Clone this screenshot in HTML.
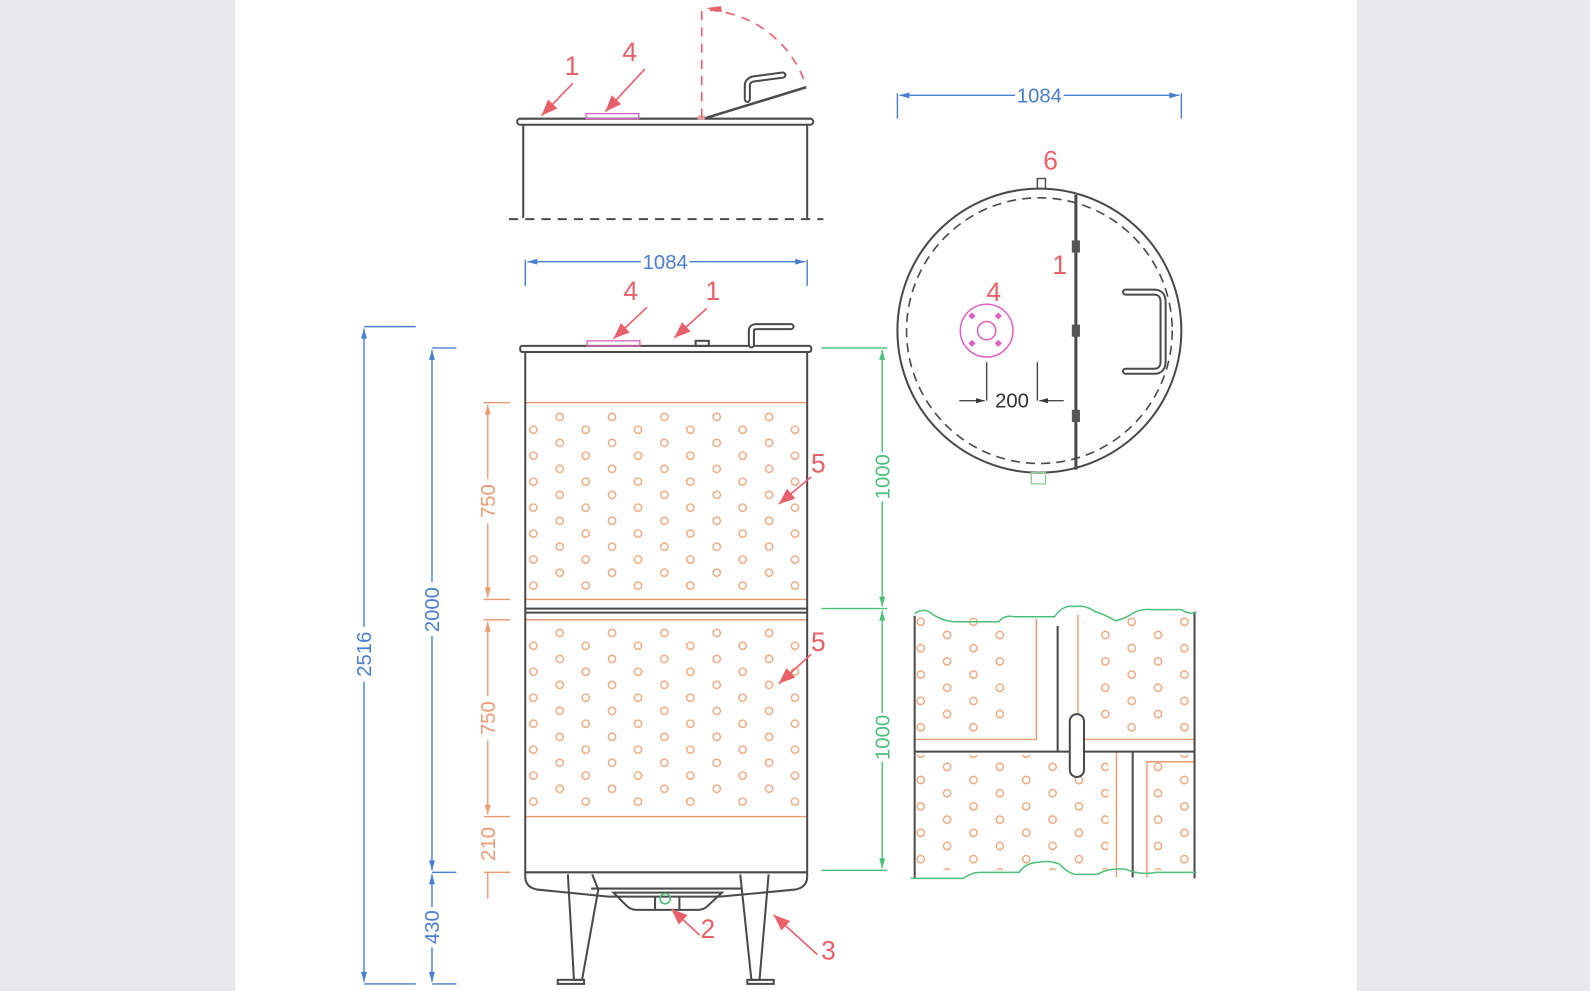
<!DOCTYPE html>
<html><head><meta charset="utf-8"><style>
html,body{margin:0;padding:0;background:#e9e9eb;}
svg{display:block;}
text{font-family:"Liberation Sans",sans-serif;}
</style></head><body>
<svg width="1590" height="991" viewBox="0 0 1568 977" preserveAspectRatio="none" xmlns="http://www.w3.org/2000/svg">
<defs>
<pattern id="dots" x="513" y="405" width="51.6" height="25.6" patternUnits="userSpaceOnUse">
<circle cx="39" cy="6" r="3.6" fill="none" stroke="#eba276" stroke-width="1.3"/>
<circle cx="13" cy="18.6" r="3.6" fill="none" stroke="#eba276" stroke-width="1.3"/>
</pattern>
<pattern id="dotsL" x="513" y="618" width="51.6" height="25.6" patternUnits="userSpaceOnUse">
<circle cx="39" cy="6" r="3.6" fill="none" stroke="#eba276" stroke-width="1.3"/>
<circle cx="13" cy="18.6" r="3.6" fill="none" stroke="#eba276" stroke-width="1.3"/>
</pattern>
<pattern id="dots2" x="895" y="606" width="52" height="26" patternUnits="userSpaceOnUse">
<circle cx="13" cy="7" r="3.6" fill="none" stroke="#eba276" stroke-width="1.3"/>
<circle cx="39" cy="20" r="3.6" fill="none" stroke="#eba276" stroke-width="1.3"/>
</pattern>
<marker id="ab" viewBox="0 0 10 10" refX="10" refY="5" markerWidth="9" markerHeight="7" orient="auto-start-reverse"><path d="M0,2 L10,5 L0,8z" fill="#4a7fd0"/></marker>
<marker id="ao" viewBox="0 0 10 10" refX="10" refY="5" markerWidth="9" markerHeight="7" orient="auto-start-reverse"><path d="M0,2 L10,5 L0,8z" fill="#ee9a70"/></marker>
<marker id="ag" viewBox="0 0 10 10" refX="10" refY="5" markerWidth="9" markerHeight="7" orient="auto-start-reverse"><path d="M0,2 L10,5 L0,8z" fill="#4cc07a"/></marker>
<marker id="ar" viewBox="0 0 10 10" refX="10" refY="5" markerWidth="14" markerHeight="10" orient="auto"><path d="M0,1 L10,5 L0,9z" fill="#e8606a"/></marker>
<marker id="ak" viewBox="0 0 10 10" refX="10" refY="5" markerWidth="10" markerHeight="6" orient="auto"><path d="M0,2 L10,5 L0,8z" fill="#333"/></marker>
</defs>
<rect x="0" y="0" width="1568" height="977" fill="#e9e9eb"/>
<rect x="232" y="0" width="1106" height="977" fill="#fefefe"/>

<g stroke="#4a4a4a" stroke-width="2" fill="none">
<rect x="510" y="117" width="292" height="6" rx="3"/>
<line x1="516" y1="123" x2="516" y2="215"/><line x1="796" y1="123" x2="796" y2="215"/>
<line x1="502" y1="216" x2="812" y2="216" stroke-dasharray="9,7"/>
<line x1="694" y1="117" x2="795" y2="86" stroke-width="2.5"/>
<path d="M737,98 L737,84 Q737,80 742,78 L772,74" stroke-width="7" stroke-linecap="round"/>
<path d="M737,98 L737,84 Q737,80 742,78 L772,74" stroke="#fff" stroke-width="3" stroke-linecap="round"/>
</g>
<rect x="578" y="112" width="52" height="5" fill="none" stroke="#e060c0" stroke-width="1.3"/>
<rect x="688" y="114" width="7" height="4" fill="#e8a0a0"/>
<path d="M692,116 L692,8 M700,10 A108,108 0 0 1 795,85" fill="none" stroke="#e8606a" stroke-width="1.6" stroke-dasharray="9,7"/>
<path d="M712,12 L696,8 L711,6z" fill="#e8606a"/>

<g stroke="#4a7fd0" stroke-width="1.4" fill="none">
<line x1="518" y1="256" x2="518" y2="282"/><line x1="796" y1="256" x2="796" y2="282"/>
<line x1="520" y1="258" x2="632" y2="258" marker-start="url(#ab)"/><line x1="680" y1="258" x2="794" y2="258" marker-end="url(#ab)"/>
<line x1="885" y1="92" x2="885" y2="117"/><line x1="1165" y1="92" x2="1165" y2="117"/>
<line x1="887" y1="94" x2="1001" y2="94" marker-start="url(#ab)"/><line x1="1049" y1="94" x2="1163" y2="94" marker-end="url(#ab)"/>
<line x1="359" y1="322" x2="410" y2="322"/><line x1="359" y1="970" x2="410" y2="970"/>
<line x1="359" y1="324" x2="359" y2="618" marker-start="url(#ab)"/><line x1="359" y1="672" x2="359" y2="968" marker-end="url(#ab)"/>
<line x1="426" y1="343" x2="450" y2="343"/><line x1="426" y1="860" x2="450" y2="860"/><line x1="426" y1="970" x2="450" y2="970"/>
<line x1="426" y1="345" x2="426" y2="574" marker-start="url(#ab)"/><line x1="426" y1="627" x2="426" y2="858" marker-end="url(#ab)"/>
<line x1="426" y1="862" x2="426" y2="894" marker-start="url(#ab)"/><line x1="426" y1="934" x2="426" y2="968" marker-end="url(#ab)"/>
</g>
<g fill="#4a7fd0" font-size="20">
<text x="656" y="265" text-anchor="middle">1084</text>
<text x="1025" y="101" text-anchor="middle">1084</text>
<text transform="translate(366,645) rotate(-90)" text-anchor="middle">2516</text>
<text transform="translate(433,601) rotate(-90)" text-anchor="middle">2000</text>
<text transform="translate(433,914) rotate(-90)" text-anchor="middle">430</text>
</g>
<g stroke="#ee9a70" stroke-width="1.4" fill="none">
<line x1="477" y1="397" x2="503" y2="397"/><line x1="477" y1="591" x2="503" y2="591"/>
<line x1="481" y1="399" x2="481" y2="472" marker-start="url(#ao)"/><line x1="481" y1="516" x2="481" y2="589" marker-end="url(#ao)"/>
<line x1="477" y1="611" x2="503" y2="611"/><line x1="477" y1="805" x2="503" y2="805"/>
<line x1="481" y1="613" x2="481" y2="686" marker-start="url(#ao)"/><line x1="481" y1="730" x2="481" y2="803" marker-end="url(#ao)"/>
<line x1="477" y1="860" x2="503" y2="860"/><line x1="481" y1="860" x2="481" y2="886"/>
<line x1="518" y1="397" x2="796" y2="397"/><line x1="518" y1="591" x2="796" y2="591"/>
<line x1="518" y1="611" x2="796" y2="611"/><line x1="518" y1="805" x2="796" y2="805"/>
</g>
<g fill="#ee9a70" font-size="20">
<text transform="translate(488,494) rotate(-90)" text-anchor="middle">750</text>
<text transform="translate(488,708) rotate(-90)" text-anchor="middle">750</text>
<text transform="translate(488,832) rotate(-90)" text-anchor="middle">210</text>
</g>
<g stroke="#4cc07a" stroke-width="1.4" fill="none">
<line x1="810" y1="343" x2="875" y2="343"/><line x1="810" y1="600" x2="875" y2="600"/><line x1="810" y1="858" x2="875" y2="858"/>
<line x1="870" y1="345" x2="870" y2="446" marker-start="url(#ag)"/><line x1="870" y1="494" x2="870" y2="598" marker-end="url(#ag)"/>
<line x1="870" y1="602" x2="870" y2="703" marker-start="url(#ag)"/><line x1="870" y1="751" x2="870" y2="856" marker-end="url(#ag)"/>
</g>
<g fill="#4cc07a" font-size="20">
<text transform="translate(877,470) rotate(-90)" text-anchor="middle">1000</text>
<text transform="translate(877,727) rotate(-90)" text-anchor="middle">1000</text>
</g>

<rect x="519" y="405" width="277" height="180" fill="url(#dots)"/>
<rect x="519" y="618" width="277" height="180" fill="url(#dotsL)"/>
<g stroke="#4a4a4a" stroke-width="2" fill="none">
<rect x="513" y="341" width="287" height="6" rx="2"/>
<line x1="518" y1="347" x2="518" y2="864"/><line x1="796" y1="347" x2="796" y2="864"/>
<line x1="518" y1="600" x2="796" y2="600"/><line x1="518" y1="604" x2="796" y2="604"/>
<rect x="686" y="336" width="13" height="5"/>
<path d="M741,340 L741,326 Q741,322 746,322 L780,322" stroke-width="7" stroke-linecap="round"/>
<path d="M741,340 L741,326 Q741,322 746,322 L780,322" stroke="#fff" stroke-width="3" stroke-linecap="round"/>
<line x1="518" y1="860" x2="796" y2="860"/>
<path d="M518,864 Q518,875 530,877 L600,884 L710,884 L784,877 Q796,875 796,864"/>
<line x1="583" y1="876" x2="732" y2="876"/>
<path d="M605,880 L618,893 Q622,897 628,897 L688,897 Q694,897 698,893 L712,880 Z"/>
<line x1="646" y1="884" x2="646" y2="897"/><line x1="670" y1="884" x2="670" y2="897"/>
<path d="M560,862 L566,966 L574,966 L590,877 L584,862"/>
<path d="M730,862 L741,966 L749,966 L758,862"/>
<rect x="550" y="966" width="26" height="4"/><rect x="737" y="966" width="26" height="4"/>
</g>
<rect x="579" y="336" width="52" height="5" fill="none" stroke="#e060c0" stroke-width="1.3"/>
<circle cx="656" cy="886" r="5" fill="none" stroke="#4cc07a" stroke-width="1.6"/>

<g stroke="#e8606a" stroke-width="1.6" fill="none" marker-end="url(#ar)">
<line x1="565" y1="82" x2="534" y2="114"/>
<line x1="636" y1="68" x2="597" y2="110"/>
<line x1="638" y1="303" x2="605" y2="334"/>
<line x1="697" y1="304" x2="665" y2="333"/>
<line x1="800" y1="470" x2="768" y2="497"/>
<line x1="800" y1="645" x2="768" y2="674"/>
<line x1="690" y1="922" x2="662" y2="896"/>
<line x1="806" y1="941" x2="763" y2="902"/>
</g>
<g fill="#e8606a" font-size="26">
<text x="564" y="74" text-anchor="middle">1</text>
<text x="621" y="60" text-anchor="middle">4</text>
<text x="622" y="296" text-anchor="middle">4</text>
<text x="703" y="296" text-anchor="middle">1</text>
<text x="807" y="466" text-anchor="middle">5</text>
<text x="807" y="642" text-anchor="middle">5</text>
<text x="698" y="925" text-anchor="middle">2</text>
<text x="817" y="946" text-anchor="middle">3</text>
<text x="1036" y="167" text-anchor="middle">6</text>
<text x="1045" y="270" text-anchor="middle">1</text>
<text x="980" y="297" text-anchor="middle">4</text>
</g>

<g stroke="#4a4a4a" stroke-width="2" fill="none">
<circle cx="1025" cy="326" r="140"/>
<circle cx="1025" cy="326" r="131" stroke-width="1.6" stroke-dasharray="9,6"/>
<rect x="1023" y="176" width="8" height="10" stroke-width="1.4"/>
<line x1="1061" y1="192" x2="1061" y2="463" stroke-width="3"/>
<path d="M1110,288 L1138,288 Q1147,288 1147,298 L1147,356 Q1147,366 1138,366 L1110,366" stroke-width="7" stroke-linecap="round"/>
<path d="M1110,288 L1138,288 Q1147,288 1147,298 L1147,356 Q1147,366 1138,366 L1110,366" stroke="#fff" stroke-width="3" stroke-linecap="round"/>
<line x1="973" y1="357" x2="973" y2="395" stroke-width="1.4"/><line x1="1023" y1="357" x2="1023" y2="395" stroke-width="1.4"/>
<line x1="946" y1="395" x2="971" y2="395" stroke-width="1.4" marker-end="url(#ak)"/>
<line x1="1049" y1="395" x2="1025" y2="395" stroke-width="1.4" marker-end="url(#ak)"/>
</g>
<g fill="#555"><rect x="1057" y="237" width="8" height="12"/><rect x="1057" y="320" width="8" height="12"/><rect x="1057" y="404" width="8" height="12"/></g>
<rect x="1017" y="466" width="14" height="11" fill="none" stroke="#8ccf9c" stroke-width="1.3"/>
<circle cx="973" cy="326" r="26" fill="none" stroke="#e060c0" stroke-width="1.5"/>
<circle cx="973" cy="326" r="9" fill="none" stroke="#e060c0" stroke-width="1.5"/>
<g fill="#e060c0"><rect x="956" y="309" width="5" height="5" transform="rotate(45 958.5 311.5)"/><rect x="982" y="309" width="5" height="5" transform="rotate(45 984.5 311.5)"/><rect x="956" y="336" width="5" height="5" transform="rotate(45 958.5 338.5)"/><rect x="982" y="336" width="5" height="5" transform="rotate(45 984.5 338.5)"/></g>
<text x="998" y="402" text-anchor="middle" font-size="20" fill="#333">200</text>

<g>
<rect x="903" y="608" width="100" height="115" fill="url(#dots2)"/>
<rect x="1068" y="606" width="108" height="117" fill="url(#dots2)"/>
<rect x="903" y="744" width="190" height="114" fill="url(#dots2)"/>
<rect x="1136" y="744" width="40" height="114" fill="url(#dots2)"/>
<g stroke="#ee9a70" stroke-width="1.4" fill="none">
<path d="M903,729 L1022,729 L1022,610"/>
<path d="M1063,606 L1063,729 L1178,729"/>
<path d="M903,741 L1101,741 L1101,865"/>
<path d="M1178,751 L1131,751 L1131,865"/>
</g>
<g stroke="#4a4a4a" stroke-width="2" fill="none">
<line x1="902" y1="607" x2="902" y2="866"/><line x1="1178" y1="603" x2="1178" y2="866"/>
<line x1="902" y1="741" x2="1178" y2="741"/>
<line x1="1043" y1="617" x2="1043" y2="741"/>
<line x1="1117" y1="741" x2="1117" y2="865"/>
<rect x="1055" y="704" width="14" height="62" rx="7" fill="#fff"/>
</g>
<g stroke="#4cc07a" stroke-width="1.5" fill="none">
<path d="M902,605 Q912,598 920,606 Q930,612 940,613 L985,613 Q990,606 1000,608 L1040,608 Q1048,596 1060,598 Q1070,596 1080,603 Q1090,606 1100,612 Q1110,610 1118,604 Q1126,600 1135,601 L1165,601 Q1172,606 1180,604"/>
<path d="M898,866 L950,866 Q958,860 966,860 L1005,860 Q1012,850 1025,850 Q1035,848 1045,852 Q1052,860 1060,862 L1082,862 Q1095,855 1110,857 Q1125,863 1140,860 L1180,860"/>
</g>
</g>
</svg>
</body></html>
